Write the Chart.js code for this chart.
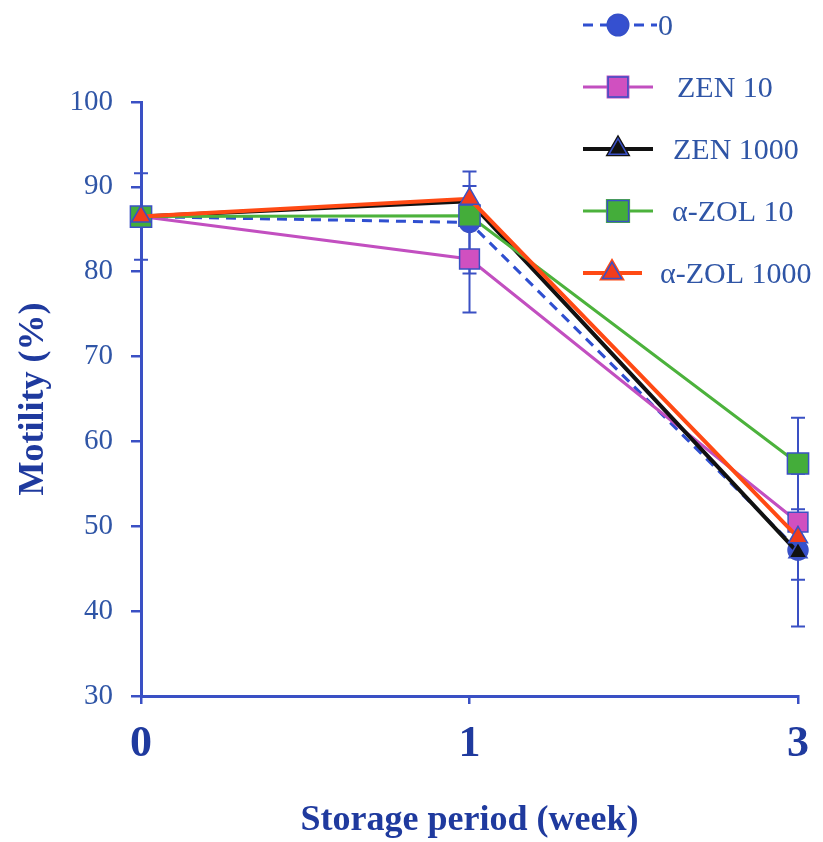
<!DOCTYPE html>
<html>
<head>
<meta charset="utf-8">
<script src="https://cdn.jsdelivr.net/npm/chart.js@4/dist/chart.umd.min.js"></script>
<style>
  html, body { margin: 0; padding: 0; background: #fff; }
  #wrap { width: 823px; height: 842px; }
</style>
</head>
<body>
<div id="wrap"><canvas id="motility" width="823" height="842"></canvas></div>
<script>
const weeks = ["0", "1", "3"];
const seriesNames = ["0", "ZEN 10", "ZEN 1000", "\u03b1-ZOL 10", "\u03b1-ZOL 1000"];

const ctrl = [86.5, 85.8, 47.2];
const zen10 = [86.5, 81.5, 50.5];
const zen1000 = [86.5, 88.3, 46.9];
const zol10 = [86.5, 86.6, 57.4];
const zol1000 = [86.5, 88.6, 48.7];

// standard deviations, null where no bar is drawn
const ctrlSd = [5.1, 6.0, 9.0];
const zen10Sd = [null, 6.3, null];
const zen1000Sd = [null, null, 3.2];
const zol10Sd = [null, null, 5.4];
const zol1000Sd = [null, 1.5, null];

const blue = "#3a50c4";
const textBlue = "#2f55a6";
const darkBlue = "#1f3a9e";
const serif = "'Liberation Serif', 'Times New Roman', serif";

const errorBars = {
  id: "errorBars",
  beforeDatasetsDraw(chart) {
    const ctx = chart.ctx;
    const y = chart.scales.y;
    ctx.save();
    ctx.strokeStyle = blue;
    ctx.lineWidth = 2;
    chart.data.datasets.forEach((ds, i) => {
      const meta = chart.getDatasetMeta(i);
      ds.sd.forEach((sd, j) => {
        if (sd == null) return;
        const x = meta.data[j].x;
        const top = y.getPixelForValue(ds.data[j] + sd);
        const bot = y.getPixelForValue(ds.data[j] - sd);
        ctx.beginPath();
        ctx.moveTo(x, top); ctx.lineTo(x, bot);
        ctx.moveTo(x - 7, top); ctx.lineTo(x + 7, top);
        ctx.moveTo(x - 7, bot); ctx.lineTo(x + 7, bot);
        ctx.stroke();
      });
    });
    ctx.restore();
  }
};

// legend rows: line end and text start differ a little per row
const legendLineEnd = [657, 653, 653, 653, 642];
const legendTextX = [658, 677, 673, 672, 660];

const sideLegend = {
  id: "sideLegend",
  afterDraw(chart) {
    const ctx = chart.ctx;
    ctx.save();
    ctx.font = "30px " + serif;
    ctx.textBaseline = "middle";
    chart.data.datasets.forEach((ds, i) => {
      const cy = 25 + i * 62;
      ctx.strokeStyle = ds.borderColor;
      ctx.lineWidth = ds.borderWidth;
      ctx.setLineDash(ds.borderDash || []);
      ctx.beginPath();
      ctx.moveTo(583, cy); ctx.lineTo(legendLineEnd[i], cy);
      ctx.stroke();
      ctx.setLineDash([]);
      Chart.helpers.drawPoint(ctx, {
        pointStyle: ds.pointStyle,
        radius: ds.pointRadius,
        borderWidth: ds.pointBorderWidth,
        rotation: 0
      }, i === 4 ? 612 : 618, cy);
      ctx.fillStyle = ds.pointBackgroundColor;
      ctx.strokeStyle = ds.pointBorderColor;
      ctx.lineWidth = ds.pointBorderWidth;
      ctx.fill();
      ctx.stroke();
      ctx.fillStyle = textBlue;
      ctx.fillText(ds.label, legendTextX[i], cy + 2);
    });
    ctx.restore();
  }
};

function series(label, data, sd, line, width, fill, style, radius, order, dash) {
  return {
    label, data, sd, order,
    borderColor: line,
    borderWidth: width,
    borderDash: dash || [],
    pointStyle: style,
    pointRadius: radius,
    pointHoverRadius: radius,
    pointBackgroundColor: fill,
    pointBorderColor: blue,
    pointBorderWidth: 1.5,
    tension: 0,
    fill: false
  };
}

new Chart(document.getElementById("motility"), {
  type: "line",
  data: {
    labels: weeks,
    datasets: [
      series(seriesNames[0], ctrl, ctrlSd, "#2f4fd0", 3, "#3550d0", "circle", 10, 4, [10, 7]),
      series(seriesNames[1], zen10, zen10Sd, "#c24fc0", 3, "#d050c0", "rect", 14, 3),
      series(seriesNames[2], zen1000, zen1000Sd, "#111111", 4, "#111111", "triangle", 10.5, 2),
      series(seriesNames[3], zol10, zol10Sd, "#4cb23c", 3, "#44ad3a", "rect", 15, 1),
      series(seriesNames[4], zol1000, zol1000Sd, "#ff4a14", 4, "#f23c1c", "triangle", 11, 0)
    ]
  },
  options: {
    responsive: false,
    animation: false,
    layout: { padding: { top: 102, right: 21, left: 0, bottom: 0 } },
    plugins: { legend: { display: false }, tooltip: { enabled: false } },
    scales: {
      x: {
        offset: false,
        afterFit(scale) { scale.height = 146; },
        grid: { drawOnChartArea: false, drawTicks: true, tickLength: 8, color: blue, lineWidth: 2.5 },
        border: { color: blue, width: 3 },
        ticks: { color: darkBlue, padding: 14, font: { family: serif, size: 44, weight: "bold" } },
        title: {
          display: true,
          text: "Storage period (week)",
          color: darkBlue,
          padding: { top: 0, bottom: 0 },
          font: { family: serif, size: 36, weight: "bold" }
        }
      },
      y: {
        min: 30,
        max: 100,
        afterFit(scale) { scale.width = 141; },
        grid: { drawOnChartArea: false, drawTicks: true, tickLength: 10, color: blue, lineWidth: 2.5 },
        border: { color: blue, width: 3 },
        ticks: { stepSize: 10, color: textBlue, padding: 18, font: { family: serif, size: 29 } },
        title: {
          display: true,
          text: "Motility (%)",
          color: darkBlue,
          padding: { top: 12, bottom: 0 },
          font: { family: serif, size: 36, weight: "bold" }
        }
      }
    }
  },
  plugins: [errorBars, sideLegend]
});
</script>
</body>
</html>
